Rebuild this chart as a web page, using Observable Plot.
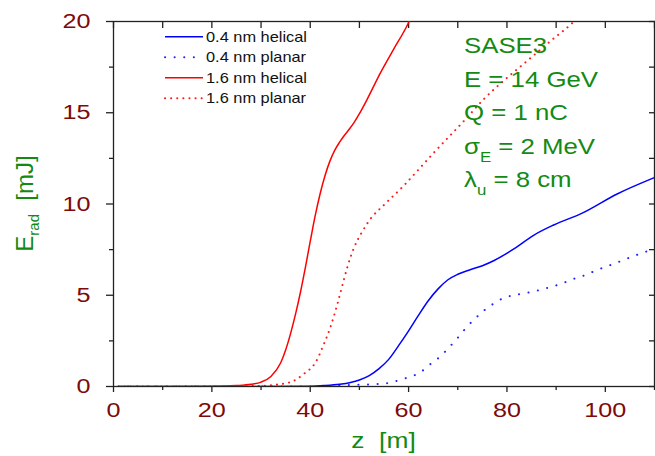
<!DOCTYPE html>
<html><head><meta charset="utf-8">
<script src="https://cdn.jsdelivr.net/npm/d3@7"></script>
<script src="https://cdn.jsdelivr.net/npm/@observablehq/plot@0.6"></script>
<style>
html,body{margin:0;padding:0;background:#fff;}
</style>
</head><body><div id="chart"></div>
<script>
// ---- data ----
const seriesNames = ["0.4 nm helical", "0.4 nm planar", "1.6 nm helical", "1.6 nm planar"];
const seriesColors = ["#0000ff", "#2222ff", "#ff0000", "#ff1a1a"];
const seriesDash = [null, "0.1,9.5", null, "0.1,6"];

const z_04_helical = [1, 20, 40, 42.8, 46, 48.2, 50, 52, 54, 56, 58, 60, 62, 64, 66, 68, 70, 72.5, 75, 77.5, 81.4, 85.5, 89.5, 95.3, 102.4, 110];
const E_04_helical = [0, 0, 0.02, 0.05, 0.12, 0.22, 0.36, 0.6, 0.98, 1.5, 2.25, 3.05, 3.9, 4.7, 5.35, 5.85, 6.15, 6.4, 6.62, 6.92, 7.54, 8.3, 8.85, 9.5, 10.55, 11.45];

const z_04_planar = [1, 40, 48.9, 55, 58.7, 62.5, 64.5, 66.5, 68.4, 70.1, 71.8, 73.6, 75.5, 77.5, 79.4, 81.4, 83.4, 85.4, 87.5, 89.9, 91.9, 93.9, 96.0, 98.0, 101.7, 105.8, 110];
const E_04_planar = [0, 0, 0.09, 0.16, 0.4, 0.8, 1.24, 1.66, 2.19, 2.7, 3.25, 3.74, 4.2, 4.58, 4.86, 5.0, 5.1, 5.2, 5.35, 5.53, 5.72, 5.93, 6.11, 6.35, 6.72, 7.15, 7.55];

const z_16_helical = [1, 10, 20, 25, 28, 30, 32, 34, 35, 36, 37, 38, 39, 40, 41, 42, 43, 44, 45, 46, 47, 48, 49, 50, 51.6, 54.3, 57.0, 59.5, 60.2];
const E_16_helical = [0, 0, 0.01, 0.05, 0.12, 0.24, 0.55, 1.3, 2.0, 2.9, 3.95, 5.15, 6.5, 7.95, 9.35, 10.55, 11.55, 12.35, 12.95, 13.4, 13.78, 14.12, 14.5, 14.95, 15.75, 17.2, 18.5, 19.67, 20.05];

const z_16_planar = [1, 20, 28, 32.6, 36, 38.7, 41.1, 42.8, 44.1, 45.5, 46.5, 47.5, 48.9, 50.6, 52.3, 55, 59, 62.4, 65.1, 71.6, 75.3, 79.7, 84.1, 88.9, 93.6, 94.5];
const E_16_planar = [0, 0, 0.02, 0.09, 0.24, 0.69, 1.33, 2.34, 3.25, 4.5, 5.5, 6.5, 7.6, 8.5, 9.2, 9.95, 11.0, 12.0, 12.8, 14.65, 15.75, 16.84, 17.84, 18.94, 20.0, 20.25];

const seriesZ = [z_04_helical, z_04_planar, z_16_helical, z_16_planar];
const seriesE = [E_04_helical, E_04_planar, E_16_helical, E_16_planar];

const xDomain = [0, 110];
const yDomain = [0, 20];
const xMajorTicks = [0, 20, 40, 60, 80, 100];
const xMinorTicks = [10, 30, 50, 70, 90, 110];
const xAllTicks = [0, 10, 20, 30, 40, 50, 60, 70, 80, 90, 100, 110];
const yMajorTicks = [0, 5, 10, 15, 20];
const yMinorTicks = [2.5, 7.5, 12.5, 17.5];
const yAllTicks = [0, 2.5, 5, 7.5, 10, 12.5, 15, 17.5, 20];

const annotationLines = [
  [["SASE3"]],
  [["E = 14 GeV"]],
  [["Q = 1 nC"]],
  [["σ"], ["E", "sub"], [" = 2 MeV"]],
  [["λ"], ["u", "sub"], [" = 8 cm"]]
];

// ---- styles ----
const FONT = "'Liberation Sans', Arial, sans-serif";
const TICK_COLOR = "#7d0a0a";
const GREEN = "#138a13";
const AXIS_STROKE = "#222";
const STRETCH = 1.2;

const data = seriesNames.map((name, i) => seriesZ[i].map((z, j) => ({series: name, z, E: seriesE[i][j]})));

const lineMarks = [1, 3, 0, 2].map(i => Plot.line(data[i], {
  x: "z", y: "E",
  stroke: seriesColors[i],
  strokeWidth: seriesDash[i] ? 2 : 1.5,
  strokeDasharray: seriesDash[i] || undefined,
  strokeLinecap: seriesDash[i] ? "round" : "butt",
  curve: "monotone-x",
  clip: true
}));

const chart = Plot.plot({
  width: 655,
  height: 456,
  marginLeft: 113,
  marginRight: 1,
  marginTop: 21,
  marginBottom: 70,
  style: {fontFamily: FONT, background: "#fff", overflow: "visible"},
  x: {domain: xDomain, label: null},
  y: {domain: yDomain, label: null},
  marks: [
    Plot.frame({stroke: AXIS_STROKE, strokeWidth: 1.3}),
    Plot.axisX({ticks: xMajorTicks, tickSize: 6, tickPadding: 10, fontSize: 21, fill: TICK_COLOR, stroke: AXIS_STROKE, strokeWidth: 1.3, label: null}),
    Plot.axisX({ticks: xMinorTicks, tickSize: 4, tickFormat: () => "", stroke: AXIS_STROKE, strokeWidth: 1.3, label: null}),
    Plot.axisX({anchor: "top", ticks: xAllTicks, tickSize: 6, dy: 6, tickFormat: () => "", stroke: AXIS_STROKE, strokeWidth: 1.3, label: null}),
    Plot.axisY({ticks: yMajorTicks, tickSize: 7, tickPadding: 16, fontSize: 21, fill: TICK_COLOR, stroke: AXIS_STROKE, strokeWidth: 1.3, label: null}),
    Plot.axisY({ticks: yMinorTicks, tickSize: 4, tickFormat: () => "", stroke: AXIS_STROKE, strokeWidth: 1.3, label: null}),
    Plot.axisY({anchor: "right", ticks: yAllTicks, tickSize: 6, dx: -6, tickFormat: () => "", stroke: AXIS_STROKE, strokeWidth: 1.3, label: null}),
    ...lineMarks
  ]
});
document.getElementById("chart").append(chart);

// horizontal stretch for (non-rotated) text, to match the reference's wide lettering
function stretch(el, s) {
  const bb = el.getBBox();
  if (!bb.width) return;
  const anchor = getComputedStyle(el).textAnchor;
  const ax = anchor === "end" ? bb.x + bb.width : anchor === "middle" ? bb.x + bb.width / 2 : bb.x;
  const prev = el.getAttribute("transform") || "";
  el.setAttribute("transform", `${prev} translate(${ax},0) scale(${s},1) translate(${-ax},0)`);
}
chart.querySelectorAll("text").forEach(t => stretch(t, STRETCH));

const svg = d3.select(chart);
const xs = chart.scale("x"), ys = chart.scale("y");
const cx = (xs.range[0] + xs.range[1]) / 2;
const cy = (ys.range[0] + ys.range[1]) / 2;

// x axis title
const xl = svg.append("text")
  .attr("x", cx).attr("y", 448)
  .attr("text-anchor", "middle")
  .attr("font-family", FONT).attr("font-size", 22).attr("fill", GREEN)
  .text("z\u00a0\u00a0[m]");
stretch(xl.node(), STRETCH);

// y axis title (rotated)
const yl = svg.append("text")
  .attr("transform", `translate(33,${cy}) rotate(-90)`)
  .attr("text-anchor", "middle")
  .attr("font-family", FONT).attr("font-size", 24).attr("fill", GREEN);
yl.append("tspan").text("E");
yl.append("tspan").attr("font-size", 15).attr("dy", 6).text("rad");
yl.append("tspan").attr("dy", -6).text("\u00a0\u00a0[mJ]");

// legend
const legend = svg.append("g").attr("font-family", FONT).attr("font-size", 14).attr("fill", "#111").attr("text-anchor", "start");
[0, 1, 2, 3].forEach(i => {
  const y = 36.7 + 20.5 * i;
  legend.append("line")
    .attr("x1", 165).attr("x2", 203).attr("y1", y).attr("y2", y)
    .attr("stroke", seriesColors[i])
    .attr("stroke-width", seriesDash[i] ? 2 : 1.5)
    .attr("stroke-dasharray", seriesDash[i])
    .attr("stroke-linecap", seriesDash[i] ? "round" : "butt");
  const t = legend.append("text").attr("x", 206).attr("y", y + 5).text(seriesNames[i]);
  stretch(t.node(), 1.17);
});

// annotation block
const ann = svg.append("g").attr("font-family", FONT).attr("font-size", 21.5).attr("fill", GREEN).attr("text-anchor", "start");
annotationLines.forEach((parts, i) => {
  const t = ann.append("text").attr("x", 464).attr("y", 53.5 + 33.5 * i);
  let shifted = false;
  parts.forEach(([s, kind]) => {
    const sp = t.append("tspan").text(s.replace(/ /g, "\u00a0"));
    if (kind === "sub") { sp.attr("font-size", 14).attr("dy", 8); shifted = true; }
    else if (shifted) { sp.attr("dy", -8); shifted = false; }
  });
  stretch(t.node(), STRETCH);
});
</script>
</body></html>
